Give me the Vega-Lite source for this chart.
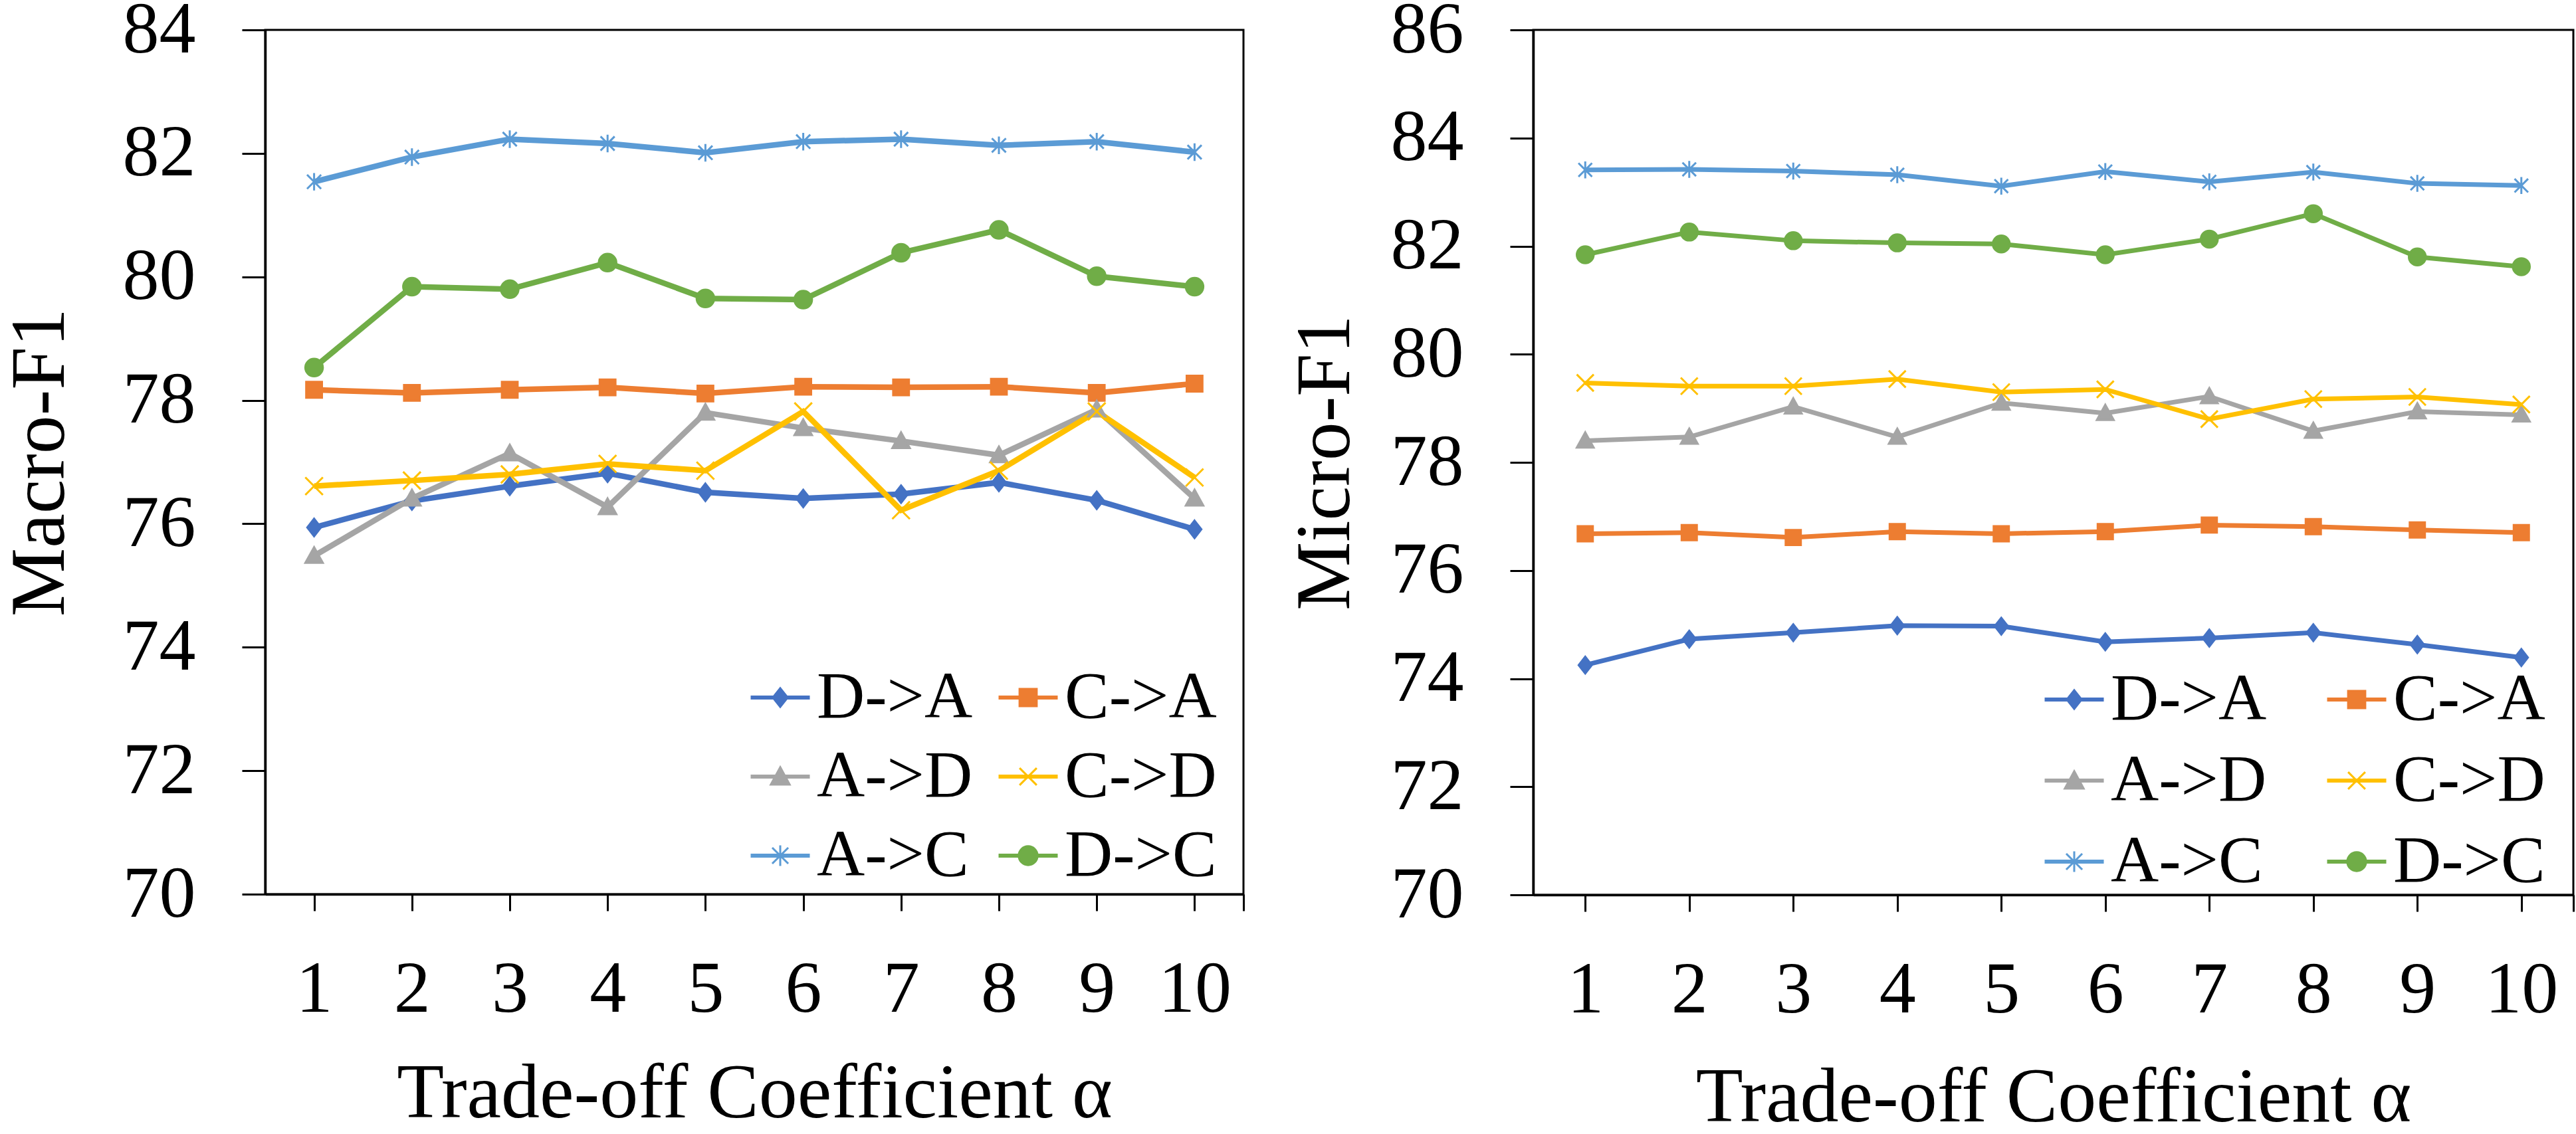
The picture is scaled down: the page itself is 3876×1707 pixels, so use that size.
{
  "$schema": "https://vega.github.io/schema/vega-lite/v6.json",
  "background": "white",
  "padding": {"top": -12, "left": 0, "right": 0, "bottom": 0},
  "spacing": 60,
  "datasets": {
    "macro": [
      {"series":"D->A","alpha":1,"value":75.94},{"series":"D->A","alpha":2,"value":76.37},{"series":"D->A","alpha":3,"value":76.61},{"series":"D->A","alpha":4,"value":76.82},{"series":"D->A","alpha":5,"value":76.51},{"series":"D->A","alpha":6,"value":76.41},{"series":"D->A","alpha":7,"value":76.48},{"series":"D->A","alpha":8,"value":76.67},{"series":"D->A","alpha":9,"value":76.38},{"series":"D->A","alpha":10,"value":75.91},
      {"series":"C->A","alpha":1,"value":78.17},{"series":"C->A","alpha":2,"value":78.12},{"series":"C->A","alpha":3,"value":78.17},{"series":"C->A","alpha":4,"value":78.21},{"series":"C->A","alpha":5,"value":78.11},{"series":"C->A","alpha":6,"value":78.22},{"series":"C->A","alpha":7,"value":78.21},{"series":"C->A","alpha":8,"value":78.22},{"series":"C->A","alpha":9,"value":78.12},{"series":"C->A","alpha":10,"value":78.27},
      {"series":"A->D","alpha":1,"value":75.48},{"series":"A->D","alpha":2,"value":76.41},{"series":"A->D","alpha":3,"value":77.14},{"series":"A->D","alpha":4,"value":76.27},{"series":"A->D","alpha":5,"value":77.80},{"series":"A->D","alpha":6,"value":77.55},{"series":"A->D","alpha":7,"value":77.34},{"series":"A->D","alpha":8,"value":77.11},{"series":"A->D","alpha":9,"value":77.85},{"series":"A->D","alpha":10,"value":76.41},
      {"series":"C->D","alpha":1,"value":76.61},{"series":"C->D","alpha":2,"value":76.70},{"series":"C->D","alpha":3,"value":76.80},{"series":"C->D","alpha":4,"value":76.97},{"series":"C->D","alpha":5,"value":76.86},{"series":"C->D","alpha":6,"value":77.82},{"series":"C->D","alpha":7,"value":76.22},{"series":"C->D","alpha":8,"value":76.86},{"series":"C->D","alpha":9,"value":77.82},{"series":"C->D","alpha":10,"value":76.75},
      {"series":"A->C","alpha":1,"value":81.54},{"series":"A->C","alpha":2,"value":81.94},{"series":"A->C","alpha":3,"value":82.23},{"series":"A->C","alpha":4,"value":82.16},{"series":"A->C","alpha":5,"value":82.01},{"series":"A->C","alpha":6,"value":82.19},{"series":"A->C","alpha":7,"value":82.23},{"series":"A->C","alpha":8,"value":82.13},{"series":"A->C","alpha":9,"value":82.19},{"series":"A->C","alpha":10,"value":82.02},
      {"series":"D->C","alpha":1,"value":78.53},{"series":"D->C","alpha":2,"value":79.84},{"series":"D->C","alpha":3,"value":79.80},{"series":"D->C","alpha":4,"value":80.23},{"series":"D->C","alpha":5,"value":79.65},{"series":"D->C","alpha":6,"value":79.63},{"series":"D->C","alpha":7,"value":80.39},{"series":"D->C","alpha":8,"value":80.76},{"series":"D->C","alpha":9,"value":80.01},{"series":"D->C","alpha":10,"value":79.84}
    ],
    "micro": [
      {"series":"D->A","alpha":1,"value":74.25},{"series":"D->A","alpha":2,"value":74.73},{"series":"D->A","alpha":3,"value":74.85},{"series":"D->A","alpha":4,"value":74.98},{"series":"D->A","alpha":5,"value":74.97},{"series":"D->A","alpha":6,"value":74.68},{"series":"D->A","alpha":7,"value":74.75},{"series":"D->A","alpha":8,"value":74.85},{"series":"D->A","alpha":9,"value":74.63},{"series":"D->A","alpha":10,"value":74.39},
      {"series":"C->A","alpha":1,"value":76.68},{"series":"C->A","alpha":2,"value":76.70},{"series":"C->A","alpha":3,"value":76.61},{"series":"C->A","alpha":4,"value":76.72},{"series":"C->A","alpha":5,"value":76.68},{"series":"C->A","alpha":6,"value":76.72},{"series":"C->A","alpha":7,"value":76.84},{"series":"C->A","alpha":8,"value":76.81},{"series":"C->A","alpha":9,"value":76.75},{"series":"C->A","alpha":10,"value":76.70},
      {"series":"A->D","alpha":1,"value":78.40},{"series":"A->D","alpha":2,"value":78.47},{"series":"A->D","alpha":3,"value":79.03},{"series":"A->D","alpha":4,"value":78.47},{"series":"A->D","alpha":5,"value":79.10},{"series":"A->D","alpha":6,"value":78.91},{"series":"A->D","alpha":7,"value":79.22},{"series":"A->D","alpha":8,"value":78.58},{"series":"A->D","alpha":9,"value":78.94},{"series":"A->D","alpha":10,"value":78.88},
      {"series":"C->D","alpha":1,"value":79.47},{"series":"C->D","alpha":2,"value":79.41},{"series":"C->D","alpha":3,"value":79.41},{"series":"C->D","alpha":4,"value":79.54},{"series":"C->D","alpha":5,"value":79.30},{"series":"C->D","alpha":6,"value":79.35},{"series":"C->D","alpha":7,"value":78.80},{"series":"C->D","alpha":8,"value":79.17},{"series":"C->D","alpha":9,"value":79.21},{"series":"C->D","alpha":10,"value":79.07},
      {"series":"A->C","alpha":1,"value":83.41},{"series":"A->C","alpha":2,"value":83.42},{"series":"A->C","alpha":3,"value":83.39},{"series":"A->C","alpha":4,"value":83.32},{"series":"A->C","alpha":5,"value":83.11},{"series":"A->C","alpha":6,"value":83.38},{"series":"A->C","alpha":7,"value":83.19},{"series":"A->C","alpha":8,"value":83.37},{"series":"A->C","alpha":9,"value":83.16},{"series":"A->C","alpha":10,"value":83.12},
      {"series":"D->C","alpha":1,"value":81.84},{"series":"D->C","alpha":2,"value":82.26},{"series":"D->C","alpha":3,"value":82.10},{"series":"D->C","alpha":4,"value":82.06},{"series":"D->C","alpha":5,"value":82.04},{"series":"D->C","alpha":6,"value":81.84},{"series":"D->C","alpha":7,"value":82.13},{"series":"D->C","alpha":8,"value":82.60},{"series":"D->C","alpha":9,"value":81.80},{"series":"D->C","alpha":10,"value":81.62}
    ]
  },
  "resolve": {"scale": {"y": "independent", "x": "independent", "color": "independent", "shape": "independent", "stroke": "independent"}, "legend": {"color": "independent"}},
  "hconcat": [
    {
      "width": 1472,
      "height": 1301,
      "data": {"name": "macro"},
      "encoding": {
        "x": {"field": "alpha", "type": "quantitative", "scale": {"domain": [0.5, 10.5], "nice": false, "zero": false},
              "axis": {"title": "Trade-off Coefficient α", "values": [1,2,3,4,5,6,7,8,9,10,10.5], "labelExpr": "datum.value > 10 ? '' : datum.label", "titlePadding": 45}},
        "y": {"field": "value", "type": "quantitative", "scale": {"domain": [70, 84], "nice": false, "zero": false},
              "axis": {"title": "Macro-F1", "values": [70,72,74,76,78,80,82,84], "titlePadding": 80}},
        "color": {"field": "series", "type": "nominal",
                  "scale": {"domain": ["D->A","C->A","A->D","C->D","A->C","D->C"], "range": ["#4472C4","#ED7D31","#A5A5A5","#FFC000","#5B9BD5","#70AD47"]},
                  "legend": {"title": null, "orient": "none", "direction": "horizontal", "legendX": 725, "legendY": 955, "columns": 2, "columnPadding": 33, "rowPadding": 19, "labelFontSize": 100, "labelLimit": 1000,
                    "encode": {"symbols": {"update": {
                      "shape": {"signal": "datum.value==='D->A' ? 'M-1,-0.035H1V0.035H-1ZM0,-0.33L0.26,0L0,0.33L-0.26,0Z' : datum.value==='C->A' ? 'M-1,-0.035H1V0.035H-1ZM-0.3,-0.3H0.3V0.3H-0.3Z' : datum.value==='A->D' ? 'M-1,-0.035H1V0.035H-1ZM0,-0.33L0.33,0.28H-0.33Z' : datum.value==='C->D' ? 'M-1,-0.035H1V0.035H-1ZM-0.3,-0.3L0.3,0.3M-0.3,0.3L0.3,-0.3' : datum.value==='A->C' ? 'M-1,-0.035H1V0.035H-1ZM-0.28,-0.28L0.28,0.28M-0.28,0.28L0.28,-0.28M0,-0.36V0.36' : 'M-1,-0.035H1V0.035H-1ZM0.33,0A0.33,0.33,0,1,1,-0.33,0A0.33,0.33,0,1,1,0.33,0Z'"},
                      "fill": {"signal": "datum.value==='D->A' ? '#4472C4' : datum.value==='C->A' ? '#ED7D31' : datum.value==='A->D' ? '#A5A5A5' : datum.value==='C->D' ? '#FFC000' : datum.value==='A->C' ? '#5B9BD5' : '#70AD47'"},
                      "stroke": {"signal": "datum.value==='D->A' ? '#4472C4' : datum.value==='C->A' ? '#ED7D31' : datum.value==='A->D' ? '#A5A5A5' : datum.value==='C->D' ? '#FFC000' : datum.value==='A->C' ? '#5B9BD5' : '#70AD47'"},
                      "size": {"value": 7396},
                      "strokeWidth": {"value": 3},
                      "opacity": {"value": 1},
                      "fillOpacity": {"value": 1},
                      "strokeOpacity": {"value": 1}
                    }}}}}
      },
      "layer": [
        {"mark": {"type": "line", "strokeWidth": 8.5}},
        {"mark": {"type": "point", "filled": true, "size": 700, "strokeWidth": 3, "opacity": 1},
         "encoding": {
           "shape": {"field": "series", "type": "nominal", "legend": null,
                     "scale": {"domain": ["D->C","A->C","C->D","A->D","C->A","D->A"], "range": ["circle","M-0.8,-0.8L0.8,0.8M-0.8,0.8L0.8,-0.8M0,-1V1","M-1,-1L1,1M-1,1L1,-1","M0,-1L1,0.8H-1Z","M-0.9,-0.9H0.9V0.9H-0.9Z","M0,-1L0.78,0L0,1L-0.78,0Z"]}},
           "stroke": {"field": "series", "type": "nominal", "legend": null,
                      "scale": {"domain": ["D->C","A->C","C->D","A->D","C->A","D->A"], "range": ["#70AD47","#5B9BD5","#FFC000","#A5A5A5","#ED7D31","#4472C4"]}}
         }}
      ]
    },
    {
      "width": 1565,
      "height": 1302,
      "data": {"name": "micro"},
      "encoding": {
        "x": {"field": "alpha", "type": "quantitative", "scale": {"domain": [0.5, 10.5], "nice": false, "zero": false},
              "axis": {"title": "Trade-off Coefficient α", "values": [1,2,3,4,5,6,7,8,9,10,10.5], "labelExpr": "datum.value > 10 ? '' : datum.label", "titlePadding": 50}},
        "y": {"field": "value", "type": "quantitative", "scale": {"domain": [70, 86], "nice": false, "zero": false},
              "axis": {"title": "Micro-F1", "values": [70,72,74,76,78,80,82,84,86], "titlePadding": 54}},
        "color": {"field": "series", "type": "nominal",
                  "scale": {"domain": ["D->A","C->A","A->D","C->D","A->C","D->C"], "range": ["#4472C4","#ED7D31","#A5A5A5","#FFC000","#5B9BD5","#70AD47"]},
                  "legend": {"title": null, "orient": "none", "direction": "horizontal", "legendX": 764, "legendY": 958, "columns": 2, "columnPadding": 85, "rowPadding": 22, "labelFontSize": 100, "labelLimit": 1000,
                    "encode": {"symbols": {"update": {
                      "shape": {"signal": "datum.value==='D->A' ? 'M-1,-0.035H1V0.035H-1ZM0,-0.33L0.26,0L0,0.33L-0.26,0Z' : datum.value==='C->A' ? 'M-1,-0.035H1V0.035H-1ZM-0.3,-0.3H0.3V0.3H-0.3Z' : datum.value==='A->D' ? 'M-1,-0.035H1V0.035H-1ZM0,-0.33L0.33,0.28H-0.33Z' : datum.value==='C->D' ? 'M-1,-0.035H1V0.035H-1ZM-0.3,-0.3L0.3,0.3M-0.3,0.3L0.3,-0.3' : datum.value==='A->C' ? 'M-1,-0.035H1V0.035H-1ZM-0.28,-0.28L0.28,0.28M-0.28,0.28L0.28,-0.28M0,-0.36V0.36' : 'M-1,-0.035H1V0.035H-1ZM0.33,0A0.33,0.33,0,1,1,-0.33,0A0.33,0.33,0,1,1,0.33,0Z'"},
                      "fill": {"signal": "datum.value==='D->A' ? '#4472C4' : datum.value==='C->A' ? '#ED7D31' : datum.value==='A->D' ? '#A5A5A5' : datum.value==='C->D' ? '#FFC000' : datum.value==='A->C' ? '#5B9BD5' : '#70AD47'"},
                      "stroke": {"signal": "datum.value==='D->A' ? '#4472C4' : datum.value==='C->A' ? '#ED7D31' : datum.value==='A->D' ? '#A5A5A5' : datum.value==='C->D' ? '#FFC000' : datum.value==='A->C' ? '#5B9BD5' : '#70AD47'"},
                      "size": {"value": 7396},
                      "strokeWidth": {"value": 3},
                      "opacity": {"value": 1},
                      "fillOpacity": {"value": 1},
                      "strokeOpacity": {"value": 1}
                    }}}}}
      },
      "layer": [
        {"mark": {"type": "line", "strokeWidth": 7}},
        {"mark": {"type": "point", "filled": true, "size": 650, "strokeWidth": 3, "opacity": 1},
         "encoding": {
           "shape": {"field": "series", "type": "nominal", "legend": null,
                     "scale": {"domain": ["D->C","A->C","C->D","A->D","C->A","D->A"], "range": ["circle","M-0.8,-0.8L0.8,0.8M-0.8,0.8L0.8,-0.8M0,-1V1","M-1,-1L1,1M-1,1L1,-1","M0,-1L1,0.8H-1Z","M-0.9,-0.9H0.9V0.9H-0.9Z","M0,-1L0.78,0L0,1L-0.78,0Z"]}},
           "stroke": {"field": "series", "type": "nominal", "legend": null,
                      "scale": {"domain": ["D->C","A->C","C->D","A->D","C->A","D->A"], "range": ["#70AD47","#5B9BD5","#FFC000","#A5A5A5","#ED7D31","#4472C4"]}}
         }}
      ]
    }
  ],
  "config": {
    "font": "Liberation Serif",
    "view": {"stroke": "black", "strokeWidth": 3},
    "axis": {"labelFont": "Liberation Serif", "titleFont": "Liberation Serif", "labelColor": "black", "titleColor": "black", "domainColor": "black", "tickColor": "black", "domainWidth": 3.5, "tickWidth": 3, "grid": false, "labelFontSize": 110, "titleFontSize": 116, "titleFontWeight": "normal", "labelOverlap": false, "labelFlush": false},
    "axisY": {"tickSize": 35, "labelPadding": 70},
    "axisX": {"tickSize": 25, "labelPadding": 64, "labelAngle": 0},
    "legend": {"labelFont": "Liberation Serif", "labelColor": "black", "labelOffset": 5, "symbolSize": 7396, "symbolStrokeWidth": 3, "padding": 0, "symbolOpacity": 1}
  }
}
